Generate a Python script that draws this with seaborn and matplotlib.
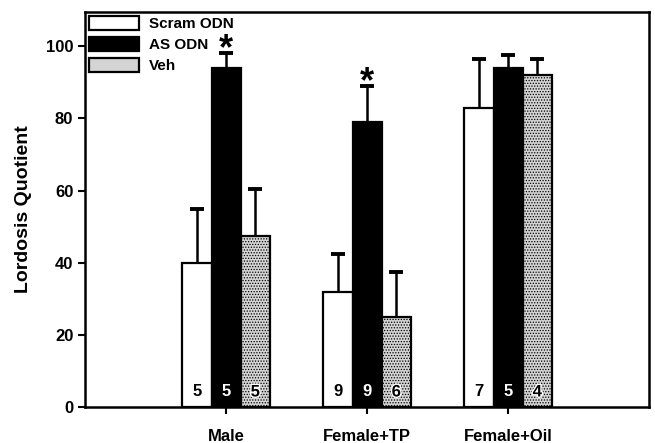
import pandas as pd
import numpy as np
import matplotlib
matplotlib.use('Agg')
import matplotlib.pyplot as plt
import matplotlib.patheffects as pe
import seaborn as sns

sns.set_style('ticks')
plt.rcParams['font.family'] = ['Liberation Sans', 'DejaVu Sans']
plt.rcParams['font.weight'] = 'bold'
plt.rcParams['text.color'] = 'black'
plt.rcParams['xtick.color'] = 'black'
plt.rcParams['ytick.color'] = 'black'
plt.rcParams['axes.labelcolor'] = 'black'
plt.rcParams['axes.edgecolor'] = 'black'
plt.rcParams['hatch.color'] = '#6e6e6e'
plt.rcParams['hatch.linewidth'] = 0.6

# 데이터
groups = ['Male', 'Female+TP', 'Female+Oil']
treatments = ['Scram ODN', 'AS ODN', 'Veh']
scram_mean = [40, 32, 83]
scram_sem = [15, 10.5, 13.5]
as_mean = [94, 79, 94]
as_sem = [4, 10, 3.5]
veh_mean = [47.5, 25, 92]
veh_sem = [13, 12.5, 4.5]
n_scram = [5, 9, 7]
n_as = [5, 9, 5]
n_veh = [5, 6, 4]
star_groups = ['Male', 'Female+TP']

df = pd.DataFrame({
    'group': groups * 3,
    'treatment': [t for t in treatments for _ in groups],
    'mean': scram_mean + as_mean + veh_mean,
    'sem': scram_sem + as_sem + veh_sem,
    'n': n_scram + n_as + n_veh,
})

fig, ax = plt.subplots(figsize=(6.55, 4.43), dpi=100)
fig.subplots_adjust(left=0.130, right=0.991, bottom=0.081, top=0.973)

pal = {'Scram ODN': 'white', 'AS ODN': 'black', 'Veh': '#d4d4d4'}
sns.barplot(data=df, x='group', y='mean', hue='treatment', order=groups,
            hue_order=treatments, palette=pal, errorbar=None, width=0.62,
            edgecolor='black', linewidth=1.6, saturation=1, ax=ax)

# 막대별 에러바(위쪽만), 표본수, 별표
cap_half = 0.05
for cont, t in zip(ax.containers, treatments):
    sub = df[df['treatment'] == t].set_index('group').loc[groups]
    for bar, (g, row) in zip(cont, sub.iterrows()):
        if t == 'Veh':
            bar.set_hatch('......')
        cx = bar.get_x() + bar.get_width() / 2
        top = row['mean'] + row['sem']
        ax.vlines(cx, row['mean'], top, color='black', linewidth=1.8, zorder=3)
        ax.hlines(top, cx - cap_half, cx + cap_half, color='black', linewidth=2.8, zorder=3)
        txt_color = 'white' if t == 'AS ODN' else 'black'
        txt = ax.text(cx, 4.2, str(int(row['n'])), ha='center', va='center',
                      fontsize=12, fontweight='bold', color=txt_color, zorder=4)
        if t == 'Veh':
            txt.set_path_effects([pe.withStroke(linewidth=2, foreground='white')])
        if t == 'AS ODN' and g in star_groups:
            ax.text(cx, top + 1.0, '*', ha='center', va='center',
                    fontsize=26, fontweight='bold')

ax.set_xlim(-1, 3)
ax.set_ylim(0, 109.5)
ax.set_yticks([0, 20, 40, 60, 80, 100])
ax.set_xlabel('')
ax.set_ylabel('Lordosis Quotient', fontsize=14, fontweight='bold', labelpad=10)
ax.tick_params(axis='both', labelsize=12, width=1.5, length=5, direction='out')
ax.tick_params(axis='x', pad=11)
for lab in ax.get_xticklabels() + ax.get_yticklabels():
    lab.set_fontweight('bold')
for sp in ax.spines.values():
    sp.set_visible(True)
    sp.set_linewidth(1.8)

leg = ax.legend(loc='upper left', frameon=False, fontsize=11, handlelength=3.3,
                handleheight=1.1, borderaxespad=0.15, labelspacing=0.35,
                handletextpad=0.6, borderpad=0.1)
for txt in leg.get_texts():
    txt.set_fontweight('bold')

plt.savefig('out.png', dpi=100)
